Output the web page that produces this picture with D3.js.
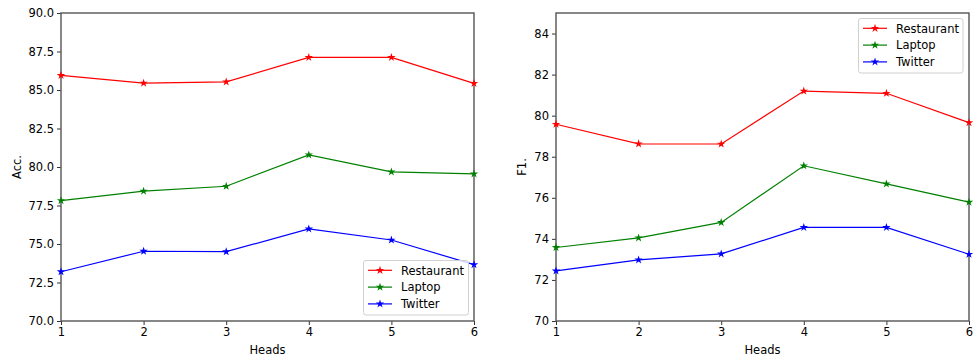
<!DOCTYPE html>
<html>
<head>
<meta charset="utf-8">
<script src="https://cdn.jsdelivr.net/npm/d3@7"></script>
<style>
html,body{margin:0;padding:0;background:#fff;}
text{font-family:"DejaVu Sans",sans-serif;fill:#000;}
</style>
</head>
<body>
<svg id="chart" width="976" height="358"></svg>
<script>
const heads = [1, 2, 3, 4, 5, 6];
const seriesNames = ["Restaurant", "Laptop", "Twitter"];
const seriesColors = ["#ff0000", "#008000", "#0000ff"];

const accRestaurant = [85.95, 85.45, 85.53, 87.12, 87.12, 85.43];
const accLaptop = [77.82, 78.43, 78.75, 80.79, 79.68, 79.55];
const accTwitter = [73.20, 74.53, 74.50, 75.98, 75.26, 73.66];

const f1Restaurant = [79.58, 78.63, 78.62, 81.20, 81.09, 79.66];
const f1Laptop = [73.58, 74.05, 74.80, 77.56, 76.68, 75.79];
const f1Twitter = [72.44, 72.98, 73.27, 74.56, 74.56, 73.25];

const accTicks = [70.0, 72.5, 75.0, 77.5, 80.0, 82.5, 85.0, 87.5, 90.0];
const f1Ticks = [70, 72, 74, 76, 78, 80, 82, 84];

const svg = d3.select("#chart");
const FS = 11.5;

const panels = [
  {x0: 61, x1: 474, y0: 13, y1: 321, domain: [70, 90], ticks: accTicks, fmt: d3.format(".1f"),
   ylabel: "Acc.", ylabelX: 17, data: [accRestaurant, accLaptop, accTwitter],
   legend: {x: 363.5, y: 260.5, w: 105, h: 54.5}},
  {x0: 556, x1: 969, y0: 13, y1: 321, domain: [70, 85], ticks: f1Ticks, fmt: d3.format("d"),
   ylabel: "F1.", ylabelX: 522, data: [f1Restaurant, f1Laptop, f1Twitter],
   legend: {x: 858.5, y: 18.5, w: 104.5, h: 54.5}}
];

panels.forEach(p => {
  const g = svg.append("g");
  const x = d3.scaleLinear().domain([1, 6]).range([p.x0, p.x1]);
  const y = d3.scaleLinear().domain(p.domain).range([p.y1, p.y0]);

  // axes
  const xa = g.append("g").attr("transform", `translate(0,${p.y1})`)
    .call(d3.axisBottom(x).tickValues(heads).tickFormat(d3.format("d")).tickSizeInner(4).tickSizeOuter(0).tickPadding(3));
  const ya = g.append("g").attr("transform", `translate(${p.x0},0)`)
    .call(d3.axisLeft(y).tickValues(p.ticks).tickFormat(p.fmt).tickSizeInner(4).tickSizeOuter(0).tickPadding(3));
  [xa, ya].forEach(a => {
    a.select(".domain").remove();
    a.selectAll(".tick line").attr("stroke", "#333").attr("stroke-width", 1);
    a.selectAll(".tick text").attr("font-size", FS).attr("font-family", "DejaVu Sans").attr("fill", "#000");
  });

  // frame
  g.append("rect").attr("x", p.x0).attr("y", p.y0).attr("width", p.x1 - p.x0).attr("height", p.y1 - p.y0)
    .attr("fill", "none").attr("stroke", "#555").attr("stroke-width", 1.4);

  // labels
  g.append("text").attr("x", (p.x0 + p.x1) / 2).attr("y", 354).attr("text-anchor", "middle")
    .attr("font-size", FS).text("Heads");
  g.append("text").attr("transform", `translate(${p.ylabelX + 4},${(p.y0 + p.y1) / 2}) rotate(-90)`)
    .attr("text-anchor", "middle").attr("font-size", FS).text(p.ylabel);

  const line = d3.line().x((d, i) => x(heads[i])).y(d => y(d));
  const star = d3.symbol().type(d3.symbolStar).size(22);

  p.data.forEach((vals, si) => {
    g.append("path").datum(vals).attr("d", line).attr("fill", "none")
      .attr("stroke", seriesColors[si]).attr("stroke-width", 1.2);
    g.selectAll(null).data(vals).enter().append("path")
      .attr("d", star).attr("transform", (d, i) => `translate(${x(heads[i])},${y(d)})`)
      .attr("fill", seriesColors[si]);
  });

  // legend
  const L = p.legend;
  const lg = g.append("g");
  lg.append("rect").attr("x", L.x).attr("y", L.y).attr("width", L.w).attr("height", L.h)
    .attr("rx", 2.5).attr("fill", "#fff").attr("fill-opacity", 0.8).attr("stroke", "#d0d0d0").attr("stroke-width", 1);
  seriesNames.forEach((name, si) => {
    const ry = L.y + 9.8 + si * 16.8;
    lg.append("line").attr("x1", L.x + 4.5).attr("x2", L.x + 28.5).attr("y1", ry).attr("y2", ry)
      .attr("stroke", seriesColors[si]).attr("stroke-width", 1.2);
    lg.append("path").attr("d", star).attr("transform", `translate(${L.x + 16.5},${ry})`).attr("fill", seriesColors[si]);
    lg.append("text").attr("x", L.x + 37.5).attr("y", ry + 4.2).attr("font-size", FS).text(name);
  });
});
</script>
</body>
</html>
